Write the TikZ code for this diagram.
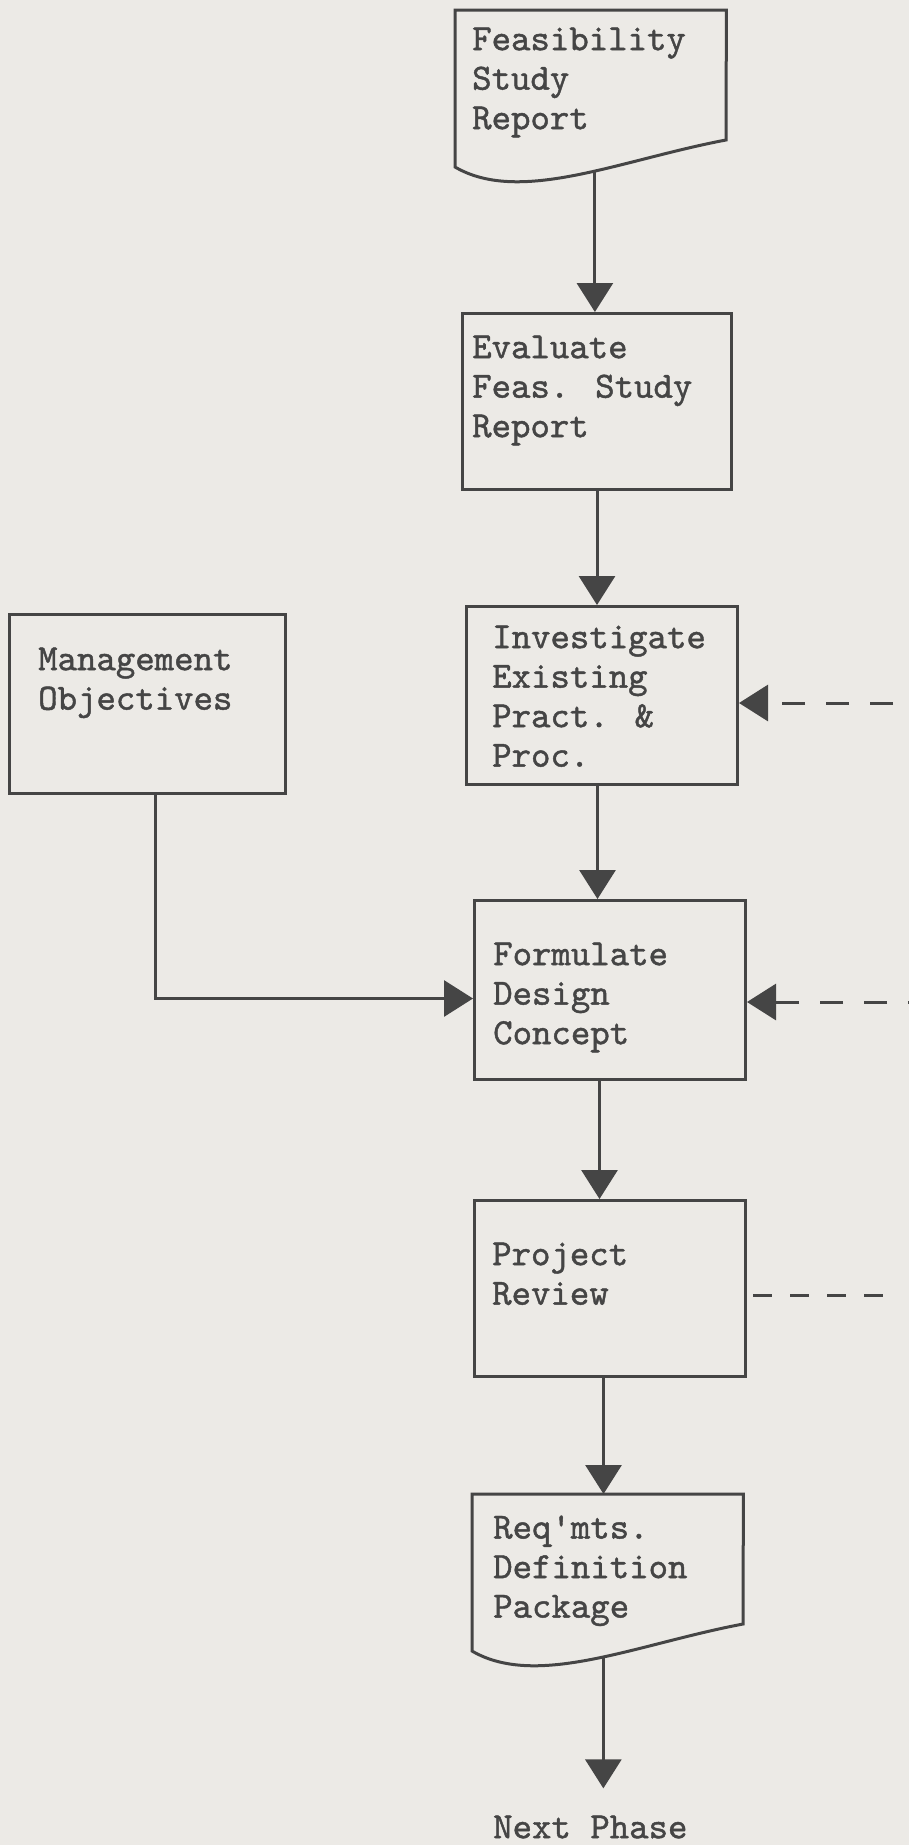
\documentclass[tikz,border=0pt]{standalone}
\usepackage{fontspec}
\newfontfamily\typewriter{lmmono10-regular.otf}[FakeBold=1.2]
\usetikzlibrary{arrows.meta}
\definecolor{paper}{HTML}{ECEAE6}
\definecolor{ink}{HTML}{454545}
\begin{document}
\begin{tikzpicture}[x=1pt,y=-1pt,
  outline/.style={draw=ink, line width=3pt, line join=miter},
  stepbox/.style={outline, rectangle, anchor=north west, inner sep=0pt},
  docbody/.style={rectangle, anchor=north west, inner sep=0pt},
  boxtext/.style={anchor=north west, inner sep=0pt, align=left, text=ink,
    font=\fontsize{37}{39.5}\selectfont\typewriter,
    execute at begin node=\strut, yshift=27.65pt},
  flow/.style={draw=ink, line width=3pt, -{Triangle[length=29pt,width=36pt]}},
  feedback/.style={flow, dash pattern=on 23pt off 21pt},
  feedout/.style={draw=ink, line width=3pt, dash pattern=on 19pt off 18pt},
]
\fill[paper] (0,0) rectangle (909,1845);
\useasboundingbox (0,0) rectangle (909,1845);

% documents (wavy bottom edge)
\node[docbody, minimum width=271pt, minimum height=130pt] (feas) at (455,10) {};
\draw[outline] (455,167) .. controls (520,205) and (620,160) .. coordinate[pos=0.57] (feas-out) (726,140)
  -- (feas.north east) -- (feas.north west) -- cycle;
\node[boxtext] (feas-t) at (472,55) {Feasibility\\Study\\Report};

\node[docbody, minimum width=271pt, minimum height=130pt] (req) at (472,1494) {};
\draw[outline] (472,1651) .. controls (537,1689) and (637,1644) .. coordinate[pos=0.54] (req-out) (743,1624)
  -- (req.north east) -- (req.north west) -- cycle;
\node[boxtext] (req-t) at (493,1543) {Req\textquotesingle mts.\\Definition\\Package};

% process boxes
\node[stepbox, minimum width=269pt, minimum height=176pt] (eval) at (461,312) {};
\node[boxtext] (eval-t) at (472,363) {Evaluate\\Feas. Study\\Report};

\node[stepbox, minimum width=271pt, minimum height=178pt] (inv) at (465,605) {};
\node[boxtext] (inv-t) at (492,653) {Investigate\\Existing\\Pract. \&\\Proc.};

\node[stepbox, minimum width=276pt, minimum height=179pt] (mgmt) at (8,613) {};
\node[boxtext] (mgmt-t) at (38,675) {Management\\Objectives};

\node[stepbox, minimum width=271pt, minimum height=179pt] (form) at (473,899) {};
\node[boxtext] (form-t) at (493,970) {Formulate\\Design\\Concept};

\node[stepbox, minimum width=271pt, minimum height=176pt] (proj) at (473,1199) {};
\node[boxtext] (proj-t) at (492,1270) {Project\\Review};

\node[boxtext] (next) at (493,1838) {Next Phase};

% main flow
\draw[flow] (feas-out) -- (feas-out |- eval.north);
\draw[flow] (eval.south) -- (eval.south |- inv.north);
\draw[flow] ([xshift=-4.5pt]inv.south) -- ([xshift=-4.5pt]inv.south |- form.north);
\draw[flow] ([xshift=-10.5pt]form.south) -- ([xshift=-10.5pt]form.south |- proj.north);
\draw[flow] ([xshift=-6.5pt]proj.south) -- ([xshift=-6.5pt]proj.south |- req.north);
\draw[flow, shorten >=22pt] (req-out) -- (req-out |- next.north);

% management objectives into design concept
\draw[flow] ([xshift=8pt]mgmt.south) |- ([yshift=-8.5pt]form.west);

% feedback lines from the right
\coordinate (fb-inv) at (909,703);
\coordinate (fb-form) at (909,1002);
\coordinate (fb-proj) at (885,1295);
\draw[feedback, dash phase=28pt] (fb-inv) -- (fb-inv -| inv.east);
\draw[feedback, dash phase=22pt] (fb-form) -- (fb-form -| form.east);
\draw[feedout, shorten <=6pt] (fb-proj -| proj.east) -- (fb-proj);
\end{tikzpicture}
\end{document}
